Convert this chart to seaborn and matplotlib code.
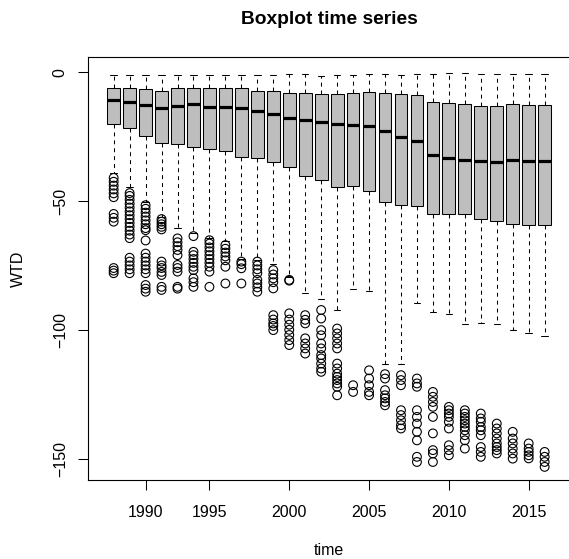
import numpy as np
import pandas as pd
import matplotlib
matplotlib.use("Agg")
import matplotlib.pyplot as plt
import seaborn as sns

# ---------------- data ----------------
years = ["1988", "1989", "1990", "1991", "1992", "1993", "1995", "1996",
         "1997", "1998", "1999", "2000", "2001", "2002", "2003", "2004",
         "2005", "2006", "2007", "2008", "2009", "2010", "2011", "2012",
         "2013", "2014", "2015", "2016"]

whisker_high = [-1.0, -1.0, -1.0, -1.0, -1.0, -1.0, -1.0, -1.0, -1.0, -1.0,
                -1.0, -0.8, -0.8, -1.5, -1.2, -1.0, -0.8, -0.8, -1.0, -0.8,
                -0.8, -0.4, -0.3, -0.8, -0.8, -0.8, -0.8, -0.8]
upper_quartile = [-6.2, -6.2, -6.6, -7.3, -6.0, -6.1, -6.2, -6.1, -6.1, -7.1,
                  -7.3, -7.9, -8.2, -8.4, -8.6, -7.9, -7.8, -8.2, -8.6, -8.8,
                  -11.4, -12.1, -12.5, -13.1, -13.1, -12.5, -12.7, -12.8]
median = [-10.8, -11.5, -12.8, -13.8, -13.0, -12.4, -13.6, -13.4, -13.9, -15.2,
          -16.2, -17.8, -18.5, -19.3, -20.2, -20.5, -20.7, -22.7, -25.0, -26.7,
          -32.1, -33.2, -34.1, -34.6, -34.9, -34.0, -34.5, -34.5]
lower_quartile = [-20.2, -21.6, -24.7, -27.6, -28.0, -29.0, -29.7, -30.6, -32.7, -33.4,
                  -35.0, -36.8, -40.3, -41.8, -44.7, -44.2, -46.2, -50.3, -51.6, -51.8,
                  -55.1, -55.1, -55.2, -57.1, -57.7, -59.0, -59.4, -59.3]
whisker_low = [-39.0, -44.5, -50.5, -56.0, -60.6, -62.5, -64.5, -65.5, -72.3, -72.9,
               -74.6, -79.4, -85.6, -88.1, -92.3, -84.2, -85.0, -113.3, -113.3, -89.4,
               -93.2, -93.8, -97.9, -97.5, -97.7, -100.2, -101.4, -102.3]

outliers = {
    "1988": [-41, -42.5, -44, -45.5, -47, -48.5, -55, -56.5, -58, -76, -77, -78],
    "1989": [-46.9, -48, -49.5, -51, -52.5, -54, -55.5, -57, -58.5, -60, -61.5,
             -63, -64.4, -72, -73.5, -75, -76.5, -78],
    "1990": [-51.6, -53, -54.5, -56, -57.5, -59, -60.5, -61.3, -65.3, -70.4, -72,
             -73.5, -75, -76.5, -78, -82.6, -84, -85.2],
    "1991": [-57, -58, -59, -60, -61, -73.5, -75, -76, -77.5, -78.7, -83.3, -84.5],
    "1992": [-64.5, -66, -67.5, -69, -71, -74.8, -76, -77.4, -83.3, -84],
    "1993": [-63.6, -69.7, -71, -72.5, -74, -75.5, -76.8, -80, -81.5, -83.3],
    "1995": [-65.2, -66.5, -68, -69.5, -71, -72.5, -74, -75.5, -77.4, -83.3],
    "1996": [-67.1, -68.5, -70, -71.5, -73, -75.5, -82],
    "1997": [-73.5, -74.5, -76.1, -82],
    "1998": [-73.5, -75, -76.5, -78, -80.6, -82, -83.5, -85.2],
    "1999": [-76.8, -78.5, -80, -81.5, -83.9, -94.3, -96, -97.5, -98.5, -100.1],
    "2000": [-80.6, -80.9, -93.6, -96, -98, -100, -102, -104, -105.9],
    "2001": [-94.3, -96.1, -97.5, -103.3, -105.3, -107.2, -109.2],
    "2002": [-92.3, -95.6, -100.1, -102.1, -105.3, -107.2, -109.8, -111.1,
             -113.1, -115.0, -116.3],
    "2003": [-99.5, -101.4, -103.3, -105.3, -107.2, -113.1, -115.0, -117.0,
             -118.3, -119.5, -120.8, -122.1, -125.4],
    "2004": [-121.5, -124.1],
    "2005": [-115.7, -118.9, -121.5, -124.1, -125.4],
    "2006": [-117.2, -118.9, -123.4, -125.4, -126.6, -128.0, -129.3],
    "2007": [-117.6, -119.5, -121.5, -131.2, -133.1, -135.1, -137.0, -138.3],
    "2008": [-118.9, -120.8, -122.1, -131.2, -133.8, -136.4, -139.6, -142.9,
             -149.3, -151.3],
    "2009": [-124.1, -126.0, -128.0, -129.9, -133.8, -140.2, -146.7, -148.0, -151.3],
    "2010": [-129.9, -131.2, -132.5, -133.8, -135.7, -138.3, -144.8, -146.7, -148.7],
    "2011": [-131.2, -132.5, -133.8, -135.1, -136.4, -137.7, -139.0, -140.9,
             -142.9, -146.1],
    "2012": [-132.5, -134.4, -135.7, -137.7, -139.0, -140.9, -145.5, -147.4, -149.3],
    "2013": [-136.4, -138.3, -140.2, -142.2, -144.1, -145.5, -146.7, -148.0],
    "2014": [-139.6, -142.2, -144.1, -146.1, -148.0, -150.0],
    "2015": [-144.1, -146.1, -147.4, -148.7, -149.9],
    "2016": [-147.4, -149.3, -151.3, -153.2],
}

tick_years = ["1990", "1995", "2000", "2005", "2010", "2015"]
y_ticks = [-150, -100, -50, 0]

# ---------------- tables for seaborn ----------------
box_rows = []
for i, yr in enumerate(years):
    for v in (whisker_low[i], lower_quartile[i], median[i],
              upper_quartile[i], whisker_high[i]):
        box_rows.append((yr, v))
box_df = pd.DataFrame(box_rows, columns=["time", "WTD"])

out_rows = [(yr, v) for yr in years for v in outliers.get(yr, [])]
out_df = pd.DataFrame(out_rows, columns=["time", "WTD"])

# ---------------- styling ----------------
sns.set_style("ticks")
plt.rcParams["font.family"] = ["Liberation Sans", "DejaVu Sans"]
plt.rcParams["text.color"] = "black"
plt.rcParams["axes.labelcolor"] = "black"
plt.rcParams["xtick.color"] = "black"
plt.rcParams["ytick.color"] = "black"

fig = plt.figure(figsize=(5.69, 5.59), dpi=100)
ax = fig.add_axes([0.15431, 0.14132, 0.84833, 0.75617])

sns.boxplot(data=box_df, x="time", y="WTD", order=years, whis=(0, 100),
            width=0.8, color="#BEBEBE", saturation=1, linecolor="black",
            linewidth=0.75, showfliers=False, ax=ax,
            medianprops={"linewidth": 2.3, "color": "black",
                         "solid_capstyle": "butt"},
            whiskerprops={"linestyle": (0, (3.8, 3.8)), "linewidth": 0.75,
                          "color": "black"},
            capprops={"linewidth": 0.75, "color": "black"})

n0 = len(ax.collections)
sns.stripplot(data=out_df, x="time", y="WTD", order=years, jitter=False,
              size=6.3, color="black", ax=ax)
for coll in ax.collections[n0:]:
    coll.set_facecolor("none")
    coll.set_edgecolor("black")
    coll.set_linewidth(0.8)

# ---------------- axes ----------------
ax.set_xlim(-1.62, 28.62)
ax.set_ylim(-158.3, 5.82)
ax.set_xticks([years.index(t) for t in tick_years])
ax.set_xticklabels(tick_years)
ax.set_yticks(y_ticks)
ax.set_yticklabels([f"{t}".replace("-", "\u2212") for t in y_ticks])
ax.grid(False)

for sp in ax.spines.values():
    sp.set_visible(True)
    sp.set_color("black")
    sp.set_linewidth(0.8)

ax.tick_params(axis="both", direction="out", length=7.2, width=0.75,
               color="black", labelsize=11.5, labelcolor="black")
ax.tick_params(axis="x", pad=10.5)
ax.tick_params(axis="y", pad=7.2, labelrotation=90)
for lbl in ax.get_yticklabels():
    lbl.set_va("center")

ax.set_title("Boxplot time series", fontsize=13.8, fontweight="bold",
             pad=23.8, color="black")
ax.set_xlabel("time", fontsize=11.5, color="black")
ax.set_ylabel("WTD", fontsize=11.5, color="black")
ax.xaxis.label.set_va("baseline")
ax.xaxis.set_label_coords(0.5, -0.1774)
ax.yaxis.label.set_va("center")
ax.yaxis.set_label_coords(-0.144, 0.5)

fig.savefig("out.png", dpi=100)
